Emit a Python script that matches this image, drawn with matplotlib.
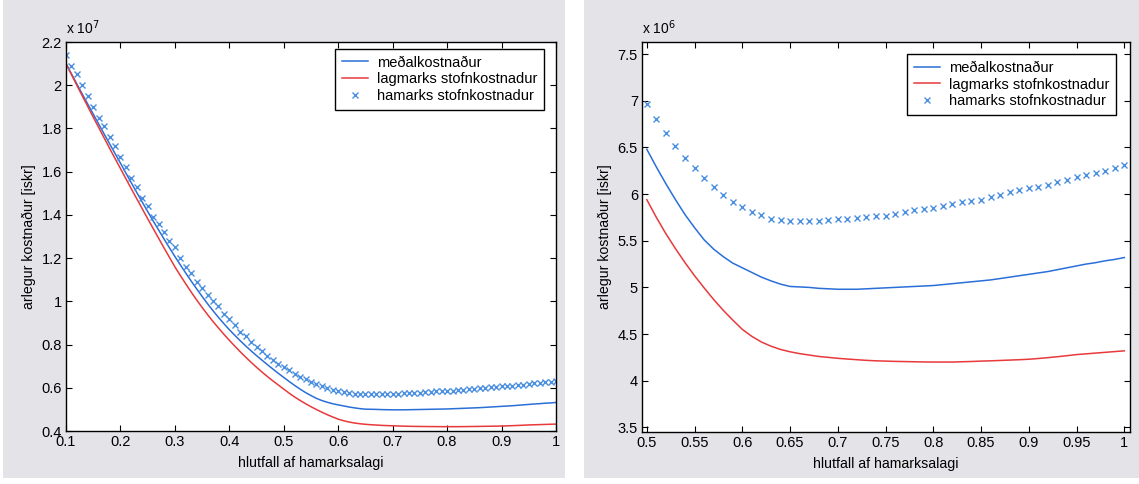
import numpy as np
import matplotlib
matplotlib.use('Agg')
import matplotlib.pyplot as plt
from matplotlib.patches import Rectangle
from matplotlib.ticker import FuncFormatter

plt.rcParams['font.family'] = ['Liberation Sans', 'DejaVu Sans']

# hlutfall af hamarksalagi, 0.10 ... 1.00
x = np.round(np.arange(0.10, 1.0001, 0.01), 2)

# arlegur kostnadur, in millions of kr (x 10^6)
medal = [21.00, 20.53, 20.06, 19.59, 19.13, 18.67, 18.21, 17.75, 17.30, 16.85,
         16.40, 15.94, 15.49, 15.04, 14.60, 14.16, 13.73, 13.31, 12.89, 12.48,
         12.08, 11.69, 11.31, 10.94, 10.58, 10.23, 9.89, 9.57, 9.26, 8.97,
         8.69, 8.43, 8.18, 7.94, 7.71, 7.49, 7.28, 7.07, 6.87, 6.67,
         6.48, 6.29, 6.11, 5.94, 5.78, 5.64, 5.51, 5.41, 5.33, 5.26,
         5.21, 5.16, 5.11, 5.07, 5.035, 5.01, 5.005, 5.00, 4.99, 4.985,
         4.98, 4.98, 4.98, 4.985, 4.99, 4.995, 5.00, 5.005, 5.01, 5.015,
         5.02, 5.03, 5.04, 5.05, 5.06, 5.07, 5.08, 5.095, 5.11, 5.125,
         5.14, 5.155, 5.17, 5.19, 5.21, 5.23, 5.25, 5.265, 5.285, 5.30, 5.32]

lagmarks = [21.00, 20.50, 20.00, 19.51, 19.02, 18.53, 18.05, 17.57, 17.09, 16.62,
            16.15, 15.68, 15.21, 14.75, 14.29, 13.83, 13.38, 12.93, 12.48, 12.04,
            11.60, 11.20, 10.81, 10.43, 10.07, 9.72, 9.39, 9.07, 8.77, 8.48,
            8.20, 7.93, 7.67, 7.42, 7.18, 6.95, 6.73, 6.52, 6.32, 6.13,
            5.94, 5.75, 5.575, 5.415, 5.265, 5.125, 4.995, 4.87, 4.755, 4.65,
            4.55, 4.475, 4.415, 4.37, 4.335, 4.31, 4.29, 4.275, 4.26, 4.25,
            4.24, 4.232, 4.225, 4.218, 4.213, 4.21, 4.207, 4.205, 4.203, 4.201,
            4.20, 4.20, 4.20, 4.203, 4.206, 4.21, 4.213, 4.217, 4.221, 4.225,
            4.23, 4.238, 4.247, 4.257, 4.268, 4.28, 4.288, 4.296, 4.304, 4.312, 4.32]

hamarks = [21.4, 20.9, 20.5, 20.0, 19.5, 19.0, 18.5, 18.1, 17.6, 17.2,
           16.7, 16.2, 15.7, 15.3, 14.8, 14.4, 13.9, 13.6, 13.2, 12.8,
           12.5, 12.0, 11.6, 11.3, 10.9, 10.6, 10.3, 10.0, 9.8, 9.4,
           9.2, 8.9, 8.6, 8.4, 8.1, 7.9, 7.7, 7.48, 7.28, 7.12,
           6.97, 6.81, 6.66, 6.52, 6.39, 6.28, 6.17, 6.08, 5.99, 5.92,
           5.86, 5.81, 5.78, 5.73, 5.72, 5.71, 5.71, 5.71, 5.71, 5.72,
           5.73, 5.73, 5.74, 5.75, 5.76, 5.77, 5.79, 5.81, 5.83, 5.84,
           5.85, 5.87, 5.89, 5.91, 5.93, 5.94, 5.97, 5.99, 6.02, 6.04,
           6.06, 6.08, 6.10, 6.13, 6.15, 6.18, 6.20, 6.23, 6.25, 6.28, 6.31]

labels = ['meðalkostnaður', 'lagmarks stofnkostnadur', 'hamarks stofnkostnadur']

medal = np.array(medal)
lagmarks = np.array(lagmarks)
hamarks = np.array(hamarks)

blue = '#2a6fd8'
red = '#e8393b'
xblue = '#4a8fe0'
bg = '#e4e4e8'

fig = plt.figure(figsize=(11.39, 4.84), dpi=100, facecolor='white')
fig.patches.append(Rectangle((0.0026, 0.012), 0.4935, 0.988, transform=fig.transFigure,
                             facecolor=bg, edgecolor='none', zorder=-10))
fig.patches.append(Rectangle((0.5127, 0.012), 0.4873, 0.988, transform=fig.transFigure,
                             facecolor=bg, edgecolor='none', zorder=-10))

fmt = FuncFormatter(lambda v, p: '%g' % round(v, 4))


def style(ax):
    ax.tick_params(direction='in', top=True, right=True, length=4, width=0.8,
                   labelsize=10.5, pad=3)
    for s in ax.spines.values():
        s.set_linewidth(1.0)
    ax.xaxis.set_major_formatter(fmt)
    ax.yaxis.set_major_formatter(fmt)
    ax.set_xlabel('hlutfall af hamarksalagi', fontsize=10.2, labelpad=5)
    ax.set_ylabel('arlegur kostnaður [iskr]', fontsize=10.2, labelpad=4)


def legend(ax, anchor):
    ax.legend(loc='upper right', bbox_to_anchor=anchor, fontsize=10.5, frameon=True,
              fancybox=False, edgecolor='black', framealpha=1, borderaxespad=0,
              handlelength=1.8, handletextpad=0.6, labelspacing=0.2, borderpad=0.45)


# vinstri mynd, 0.1 - 1
ax1 = fig.add_axes([0.0579, 0.1095, 0.4302, 0.8037])
ax1.plot(x, medal / 10, color=blue, lw=1.1, label=labels[0])
ax1.plot(x, lagmarks / 10, color=red, lw=1.1, label=labels[1])
ax1.plot(x, hamarks / 10, ls='none', marker='x', ms=4, mew=1.0, color=xblue, label=labels[2])
ax1.set_xlim(0.1, 1)
ax1.set_ylim(0.4, 2.2)
ax1.set_xticks(np.round(np.arange(0.1, 1.01, 0.1), 1))
ax1.set_yticks(np.round(np.arange(0.4, 2.21, 0.2), 1))
style(ax1)
ax1.text(0.0, 1.012, r'x 10$^{7}$', transform=ax1.transAxes, fontsize=10, va='bottom', ha='left')
legend(ax1, (0.9755, 0.982))

# haegri mynd, 0.5 - 1
m = x >= 0.5
ax2 = fig.add_axes([0.5637, 0.1074, 0.4284, 0.8058])
ax2.plot(x[m], medal[m], color=blue, lw=1.1, label=labels[0])
ax2.plot(x[m], lagmarks[m], color=red, lw=1.1, label=labels[1])
ax2.plot(x[m], hamarks[m], ls='none', marker='x', ms=5, mew=1.0, color=xblue, label=labels[2])
ax2.set_xlim(0.495, 1.006)
ax2.set_ylim(3.45, 7.63)
ax2.set_xticks(np.round(np.arange(0.5, 1.001, 0.05), 2))
ax2.set_yticks(np.round(np.arange(3.5, 7.51, 0.5), 1))
style(ax2)
ax2.text(0.0, 1.012, r'x 10$^{6}$', transform=ax2.transAxes, fontsize=10, va='bottom', ha='left')
legend(ax2, (0.971, 0.969))

fig.savefig('out.png', dpi=100, facecolor=fig.get_facecolor())
